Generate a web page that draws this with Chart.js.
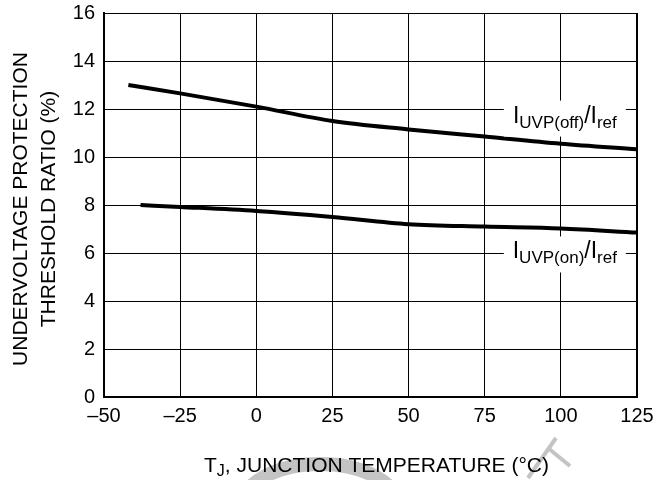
<!DOCTYPE html>
<html>
<head>
<meta charset="utf-8">
<script src="https://cdn.jsdelivr.net/npm/chart.js@4.4.0/dist/chart.umd.min.js"></script>
<style>
  html, body { margin: 0; padding: 0; background: #fff; }
  #wrap { width: 664px; height: 480px; position: relative; }
</style>
</head>
<body>
<div id="wrap"><canvas id="uvpChart"></canvas></div>
<script>
// data
const offTemps = [-42, -25, 0, 25, 50, 75, 100, 125];
const offRatio = [13.0, 12.65, 12.1, 11.5, 11.15, 10.85, 10.55, 10.32];
const onTemps = [-38, -25, 0, 25, 50, 75, 100, 125];
const onRatio = [8.0, 7.92, 7.75, 7.5, 7.2, 7.1, 7.02, 6.85];

const xTicks = [-50, -25, 0, 25, 50, 75, 100, 125];
const yTicks = [0, 2, 4, 6, 8, 10, 12, 14, 16];

const yTitle = ['UNDERVOLTAGE PROTECTION', 'THRESHOLD RATIO (%)'];
// label pieces: [text, isSub]
const offLabel = { x: 101.3, y: 11.6, parts: [['I', false], ['UVP(off)', true], ['/I', false], ['ref', true]] };
const onLabel = { x: 101.3, y: 5.94, parts: [['I', false], ['UVP(on)', true], ['/I', false], ['ref', true]] };

const FONT = 'Liberation Sans, Arial, sans-serif';

function drawParts(c, parts, cx, cy, size, subSize, subDrop) {
    let w = 0;
    parts.forEach(p => {
        c.font = (p[1] ? subSize : size) + 'px ' + FONT;
        w += c.measureText(p[0]).width;
    });
    let x = cx - w / 2;
    c.textBaseline = 'alphabetic';
    c.textAlign = 'left';
    parts.forEach(p => {
        c.font = (p[1] ? subSize : size) + 'px ' + FONT;
        c.fillText(p[0], x, cy + (p[1] ? subDrop : 0));
        x += c.measureText(p[0]).width;
    });
    return w;
}

// faint grey stamp behind the x title
const stampPlugin = {
    id: 'stamp',
    beforeDraw(chart) {
        const c = chart.ctx;
        c.save();
        c.strokeStyle = '#c4c4c4';
        c.lineWidth = 14;
        c.beginPath();
        c.ellipse(320, 506, 78, 42, 0, Math.PI, 2 * Math.PI);
        c.stroke();
        c.lineWidth = 4;
        c.beginPath();
        c.moveTo(556, 438);
        c.lineTo(528, 478);
        c.moveTo(548, 448);
        c.lineTo(570, 466);
        c.stroke();
        c.restore();
    }
};

const textPlugin = {
    id: 'textPlugin',
    afterDraw(chart) {
        const c = chart.ctx;
        const xs = chart.scales.x, ys = chart.scales.y;
        const area = chart.chartArea;
        c.save();
        c.fillStyle = '#000';

        // y title, two lines rotated
        c.save();
        c.translate(21, (area.top + area.bottom) / 2 + 4);
        c.rotate(-Math.PI / 2);
        c.font = '21px ' + FONT;
        c.textAlign = 'center';
        c.textBaseline = 'middle';
        c.fillText(yTitle[0], 0, 0);
        c.fillText(yTitle[1], 0, 28);
        c.restore();

        // x title with subscript J
        drawParts(c, [['T', false], ['J', true], [', JUNCTION TEMPERATURE (°C)', false]],
            (area.left + area.right) / 2 + 6, 472, 21, 16, 4);

        // curve labels on white boxes
        [offLabel, onLabel].forEach(lb => {
            const px = xs.getPixelForValue(lb.x);
            const py = ys.getPixelForValue(lb.y);
            c.fillStyle = '#fff';
            c.fillRect(px - 61, py - 18, 122, 36);
            c.fillStyle = '#000';
            drawParts(c, lb.parts, px, py + 4, 23, 17, 5);
        });
        c.restore();
    }
};

const ctx = document.getElementById('uvpChart').getContext('2d');
const uvpChart = new Chart(ctx, {
    type: 'scatter',
    data: {
        datasets: [{
            label: 'IUVP(off)/Iref',
            data: offTemps.map((t, i) => ({ x: t, y: offRatio[i] })),
            showLine: true,
            borderColor: '#000',
            borderWidth: 4,
            pointRadius: 0,
            cubicInterpolationMode: 'monotone'
        }, {
            label: 'IUVP(on)/Iref',
            data: onTemps.map((t, i) => ({ x: t, y: onRatio[i] })),
            showLine: true,
            borderColor: '#000',
            borderWidth: 4,
            pointRadius: 0,
            cubicInterpolationMode: 'monotone'
        }]
    },
    options: {
        responsive: true,
        maintainAspectRatio: false,
        animation: false,
        layout: { padding: { left: 0, top: 13, right: 27, bottom: 0 } },
        plugins: {
            legend: { display: false },
            tooltip: { enabled: false }
        },
        scales: {
            x: {
                type: 'linear',
                min: -50,
                max: 125,
                afterBuildTicks: s => { s.ticks = xTicks.map(v => ({ value: v })); },
                afterFit: s => { s.height = 83; s.paddingLeft = 0; s.paddingRight = 0; },
                grid: { color: '#000', lineWidth: 1, drawTicks: false },
                border: { color: '#000', width: 2 },
                ticks: {
                    color: '#000',
                    font: { family: FONT, size: 20 },
                    padding: 7,
                    maxRotation: 0,
                    callback: v => String(v).replace('-', '\u2013')
                }
            },
            y: {
                min: 0,
                max: 16,
                afterBuildTicks: s => { s.ticks = yTicks.map(v => ({ value: v })); },
                afterFit: s => { s.width = 104; s.paddingTop = 0; s.paddingBottom = 0; },
                grid: { color: '#000', lineWidth: 1, drawTicks: false },
                border: { color: '#000', width: 2 },
                ticks: {
                    color: '#000',
                    font: { family: FONT, size: 20 },
                    padding: 9
                }
            }
        }
    },
    plugins: [stampPlugin, textPlugin, {
        id: 'frame',
        beforeDatasetsDraw(chart) {
            const a = chart.chartArea, c = chart.ctx;
            c.save();
            c.strokeStyle = '#000';
            c.lineWidth = 1;
            c.beginPath();
            c.moveTo(a.left, a.top + 0.5);
            c.lineTo(a.right - 0.5, a.top + 0.5);
            c.lineTo(a.right - 0.5, a.bottom);
            c.stroke();
            c.restore();
        }
    }]
});
</script>
</body>
</html>
